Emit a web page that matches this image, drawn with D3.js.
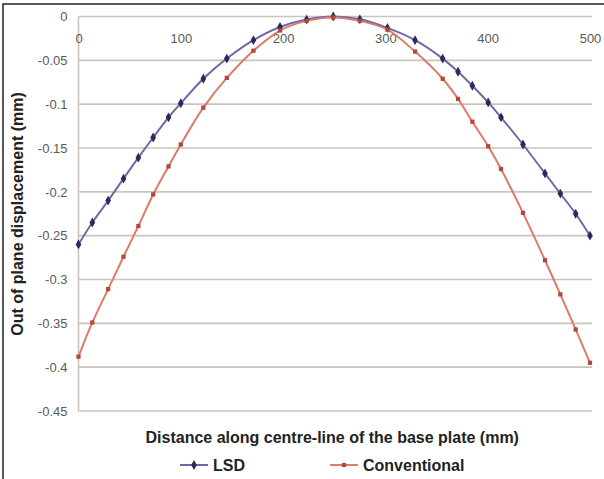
<!DOCTYPE html>
<html>
<head>
<meta charset="utf-8">
<script src="https://cdn.jsdelivr.net/npm/d3@7"></script>
<style>
  body { margin: 0; background: #fff; }
  text { font-family: "Liberation Sans", Arial, sans-serif; }
</style>
</head>
<body>
<div id="chart"></div>
<script>
// Data
var distance = [0, 13.5, 29, 44, 58.5, 73, 88, 100, 122, 145, 171, 197, 223, 249, 275, 302, 329, 356, 371, 385, 400.5, 413, 434.5, 456, 471, 486, 500];
var lsd = [-0.260, -0.235, -0.210, -0.185, -0.161, -0.138, -0.115, -0.099, -0.071, -0.048, -0.027, -0.012, -0.0035, 0, -0.0032, -0.013, -0.027, -0.048, -0.063, -0.079, -0.098, -0.115, -0.146, -0.179, -0.202, -0.225, -0.250];
var conventional = [-0.388, -0.349, -0.311, -0.274, -0.239, -0.203, -0.171, -0.146, -0.104, -0.070, -0.039, -0.016, -0.005, -0.001, -0.005, -0.015, -0.040, -0.071, -0.094, -0.120, -0.148, -0.174, -0.224, -0.278, -0.317, -0.357, -0.395];
var seriesNames = ["LSD", "Conventional"];
var xTicks = [0, 100, 200, 300, 400, 500];
var yTicks = [0, -0.05, -0.1, -0.15, -0.2, -0.25, -0.3, -0.35, -0.4, -0.45];

// Set up the chart
var svgWidth = 604;
var svgHeight = 479;
var margin = { top: 16.5, right: 14, bottom: 68, left: 78.5 };
var width = 590 - margin.left;
var height = 411 - margin.top;

var svg = d3.select("#chart")
    .append("svg")
    .attr("width", svgWidth)
    .attr("height", svgHeight);

// frame (only top and left edges are visible)
svg.append("path")
    .attr("d", "M3,479 L3,4 L604,4")
    .attr("fill", "none")
    .attr("stroke", "#222")
    .attr("stroke-width", 1.5);

var chartGroup = svg.append("g")
    .attr("transform", `translate(${margin.left}, ${margin.top})`);

// Scales
var xScale = d3.scaleLinear().domain([0, 500]).range([0, width]);
var yScale = d3.scaleLinear().domain([0, -0.45]).range([0, height]);

// Gridlines
chartGroup.selectAll(".grid")
    .data(yTicks)
    .enter()
    .append("line")
    .attr("class", "grid")
    .attr("x1", 0)
    .attr("x2", width + 2)
    .attr("y1", d => yScale(d))
    .attr("y2", d => yScale(d))
    .attr("stroke", "#cbc4bd")
    .attr("stroke-width", 1.6);

// vertical axis line
chartGroup.append("line")
    .attr("x1", 0).attr("x2", 0)
    .attr("y1", 0).attr("y2", height)
    .attr("stroke", "#cbc4bd")
    .attr("stroke-width", 1.6);

// Axes (labels only)
var bottomAxis = d3.axisBottom(xScale).tickValues(xTicks).tickSize(0).tickPadding(17);
var leftAxis = d3.axisLeft(yScale).tickValues(yTicks).tickSize(0).tickPadding(11)
    .tickFormat(d => d === 0 ? "0" : String(d));

var xAxisG = chartGroup.append("g").call(bottomAxis);
var yAxisG = chartGroup.append("g").call(leftAxis);
[xAxisG, yAxisG].forEach(function(g) {
    g.select(".domain").remove();
    g.selectAll("text")
        .attr("fill", "#5a5a5a")
        .style("font-size", "13px")
        .style("font-family", "'Liberation Sans', Arial, sans-serif");
});

// Lines
var colors = [
    { line: "#6a6aa6", marker: "#2a2a5c" },
    { line: "#dc7a6c", marker: "#b4463b" }
];
var series = [lsd, conventional];
var symbols = [d3.symbolDiamond, d3.symbolSquare];

var lineGen = d3.line()
    .x(d => xScale(d[0]))
    .y(d => yScale(d[1]))
    .curve(d3.curveCatmullRom.alpha(0.5));

series.forEach(function(vals, i) {
    var pts = distance.map((x, j) => [x, vals[j]]);
    chartGroup.append("path")
        .datum(pts)
        .attr("d", lineGen)
        .attr("fill", "none")
        .attr("stroke", colors[i].line)
        .attr("stroke-width", 2);
    chartGroup.selectAll(".m" + i)
        .data(pts)
        .enter()
        .append("path")
        .attr("class", "m" + i)
        .attr("transform", d => `translate(${xScale(d[0])}, ${yScale(d[1])})`)
        .attr("d", d3.symbol().type(symbols[i]).size(i === 0 ? 28 : 18))
        .attr("fill", colors[i].marker);
});

// Axis titles
svg.append("text")
    .attr("transform", "translate(23, 214) rotate(-90)")
    .attr("text-anchor", "middle")
    .attr("fill", "#222")
    .style("font-size", "16px")
    .style("font-weight", "bold")
    .text("Out of plane displacement (mm)");

svg.append("text")
    .attr("x", margin.left + width / 2 - 2)
    .attr("y", 443)
    .attr("text-anchor", "middle")
    .attr("fill", "#222")
    .style("font-size", "16px")
    .style("font-weight", "bold")
    .text("Distance along centre-line of the base plate (mm)");

// Legend
var legendX = [180, 330];
var legend = svg.selectAll(".legend")
    .data(seriesNames)
    .enter()
    .append("g")
    .attr("class", "legend")
    .attr("transform", (d, i) => `translate(${legendX[i]}, 465)`);

legend.append("line")
    .attr("x1", 0).attr("x2", 28)
    .attr("stroke", (d, i) => colors[i].line)
    .attr("stroke-width", 2);
legend.append("path")
    .attr("transform", "translate(14, 0)")
    .attr("d", (d, i) => d3.symbol().type(symbols[i]).size(i === 0 ? 28 : 18)())
    .attr("fill", (d, i) => colors[i].marker);
legend.append("text")
    .attr("x", 33)
    .attr("y", 6)
    .attr("fill", "#222")
    .style("font-size", "16px")
    .style("font-weight", "bold")
    .text(d => d);
</script>
</body>
</html>
